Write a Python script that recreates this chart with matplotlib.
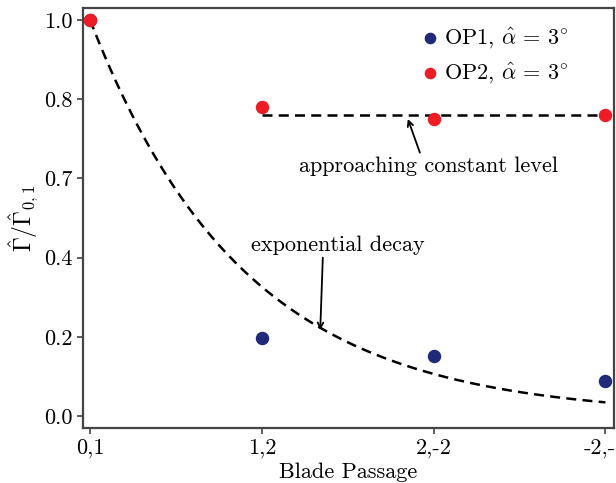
import numpy as np
import matplotlib
matplotlib.use("Agg")
import matplotlib.pyplot as plt

plt.rcParams['font.family'] = 'serif'
plt.rcParams['font.serif'] = ['cmr10', 'DejaVu Serif']
plt.rcParams['mathtext.fontset'] = 'cm'
plt.rcParams['axes.formatter.use_mathtext'] = True

x_labels = ['0,1', '1,2', '2,-2', '-2,-1']
x_pos = [0, 1, 2, 3]
op1 = [1.0, 0.198, 0.152, 0.088]
op2 = [1.0, 0.78, 0.75, 0.76]
y_ticks = [0.0, 0.2, 0.4, 0.6, 0.8, 1.0]
y_tick_labels = ['0.0', '0.2', '0.4', '0.7', '0.8', '1.0']
decay_rate = 1.12
constant_level = 0.76

fig = plt.figure(figsize=(6.16, 4.83), dpi=100)
ax = fig.add_axes([83/616, 1 - 428/483, (614-83)/616, (428-8)/483])

xs = np.linspace(0, 3, 200)
ax.plot(xs, np.exp(-decay_rate * xs), '--', color='black', lw=1.8, dashes=(4, 2.5))
ax.plot([1, 3], [constant_level, constant_level], '--', color='black', lw=1.8, dashes=(4, 2.5))

ax.scatter(x_pos, op1, s=75, color='#1f2a78', zorder=3, label=r'OP1, $\hat{\alpha}$ = 3$^{\circ}$')
ax.scatter(x_pos, op2, s=75, color='#ee1c25', zorder=4, label=r'OP2, $\hat{\alpha}$ = 3$^{\circ}$')

ax.text(1.44, 0.432, 'exponential decay', ha='center', va='center', fontsize=16)
ax.annotate('', xy=(1.34, 0.217), xytext=(1.355, 0.40),
            arrowprops=dict(arrowstyle='->', color='black', lw=1.3, shrinkA=0, shrinkB=0))
ax.text(1.97, 0.63, 'approaching constant level', ha='center', va='center', fontsize=16)
ax.annotate('', xy=(1.85, 0.75), xytext=(1.92, 0.665),
            arrowprops=dict(arrowstyle='->', color='black', lw=1.3, shrinkA=0, shrinkB=0))

ax.set_xlim(-0.041, 3.05)
ax.set_ylim(-0.03, 1.03)
ax.set_xticks(x_pos)
ax.set_xticklabels(x_labels, fontsize=16)
ax.set_yticks(y_ticks)
ax.set_yticklabels(y_tick_labels, fontsize=16)
ax.set_xlabel('Blade Passage', fontsize=16, labelpad=3)
ax.set_ylabel(r'$\hat{\Gamma}/\hat{\Gamma}_{0,1}$', fontsize=17, labelpad=2)

for s in ax.spines.values():
    s.set_color('#444444')
    s.set_linewidth(1.6)
ax.tick_params(color='#444444', width=1.2, length=4)

leg = ax.legend(loc='upper right', bbox_to_anchor=(0.93, 0.98), frameon=False, fontsize=16,
                handletextpad=0.0, handlelength=1.2, markerscale=0.85,
                scatterpoints=1, borderaxespad=0.0, labelspacing=0.45)

fig.savefig('out.png', dpi=100)
